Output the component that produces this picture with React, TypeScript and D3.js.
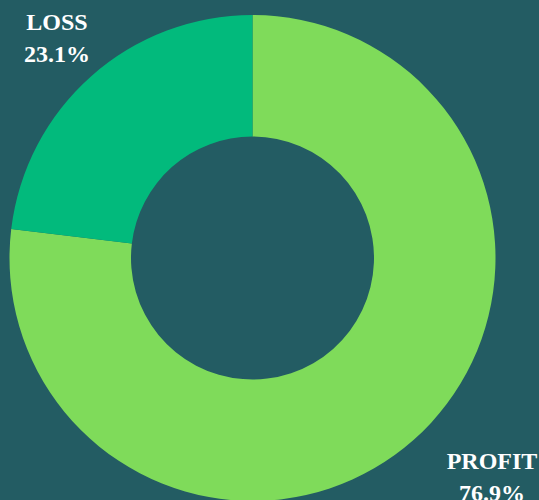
import React from "react";
import * as d3 from "d3";

const categories = ["PROFIT", "LOSS"];
const values = [76.9, 23.1];
const colors = ["#7FDB5A", "#02BA7C"];

const W = 539;
const H = 500;
const cx = 252.5;
const cy = 258;
const outerR = 243;
const innerR = 121.5;

export default function App() {
  const pie = d3.pie<number>().sort(null).value((d) => d);
  const arcs = pie(values);
  const arc = d3.arc<d3.PieArcDatum<number>>().innerRadius(innerR).outerRadius(outerR);
  const labelPos = [
    { x: 492, y: 469 },
    { x: 57, y: 30 },
  ];
  return (
    <svg
      width={W}
      height={H}
      style={{ position: "absolute", left: 0, top: 0, display: "block" }}
    >
      <rect x={0} y={0} width={W} height={H} fill="#235C63" />
      <g transform={`translate(${cx},${cy})`}>
        {arcs.map((a, i) => (
          <path key={i} d={arc(a) || ""} fill={colors[i]} />
        ))}
      </g>
      {categories.map((c, i) => (
        <text
          key={c}
          x={labelPos[i].x}
          y={labelPos[i].y}
          textAnchor="middle"
          fill="#ffffff"
          fontFamily="'Liberation Serif', serif"
          fontWeight="bold"
          fontSize={24}
        >
          <tspan x={labelPos[i].x}>{c}</tspan>
          <tspan x={labelPos[i].x} dy={32}>
            {values[i].toFixed(1)}%
          </tspan>
        </text>
      ))}
    </svg>
  );
}
